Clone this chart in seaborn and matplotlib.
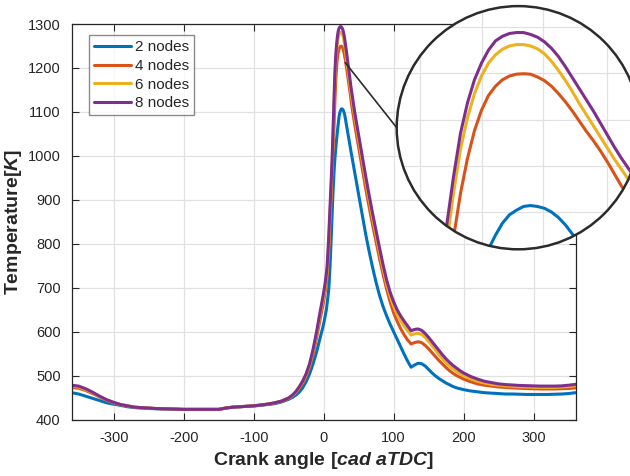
import numpy as np
import pandas as pd
import matplotlib
matplotlib.use("Agg")
import matplotlib.pyplot as plt
import seaborn as sns
from matplotlib.patches import Circle, ConnectionPatch

# ---------------- data ----------------
crank_angle = ([-360, -350, -340, -330, -320, -310, -300, -290, -280, -270, -260, -250,
                -240, -230, -220, -210, -200, -190, -180, -170, -160, -150, -140, -130,
                -120, -110, -100, -90, -80, -70, -60, -50]
               + [-45, -40, -35, -30, -25, -20, -15, -10, -5]
               + [0, 2, 4]
               + list(range(5, 46))
               + [48, 52, 56, 60]
               + list(range(65, 201, 5))
               + list(range(210, 361, 10)))

T_2nodes = ([461, 458, 453, 448, 443, 438, 435, 432, 429, 427, 426, 425, 424.5, 424, 424, 423.5,
             423, 423, 423, 423, 423, 423, 426, 428, 429, 430, 431, 432, 434, 436, 440, 446]
            + [450, 455, 462, 472, 486, 504, 527, 554, 585]
            + [617, 633, 650]
            + [663, 675, 690, 712, 742, 778, 818, 860, 900, 935, 965, 990, 1010, 1028, 1045, 1060,
               1075, 1088, 1097, 1102, 1106, 1107, 1106, 1104, 1100, 1094, 1086, 1076, 1067, 1058,
               1048, 1039, 1030, 1020, 1011, 1002, 993, 984, 975, 966, 957]
            + [930, 893, 857, 823]
            + [783, 746, 712, 682, 657, 636, 617, 600, 583, 566, 549, 533, 519, 524, 528, 527, 522,
               514, 506, 499, 493, 488, 483, 479, 475, 472, 470, 468]
            + [465, 463, 461, 460, 459, 458, 458, 457.5, 457, 457, 457, 457, 457.5, 458, 459, 461])

T_4nodes = ([473, 471, 466, 459, 451, 444, 438, 433.5, 430.5, 428, 427, 426, 425, 424.5, 424, 423.5,
             423, 423, 423, 423, 423, 423, 426, 428, 429, 430, 431, 433, 435, 437.5, 441.5, 448]
            + [453, 460, 470, 482, 498, 519, 549, 586, 628]
            + [668, 688, 711]
            + [722, 745, 770, 800, 838, 878, 918, 953, 990, 1030, 1072, 1120, 1158, 1188, 1210, 1226,
               1236, 1243, 1247, 1249, 1249.5, 1249, 1246, 1242, 1236, 1228, 1219, 1209, 1198, 1187,
               1177, 1166, 1154, 1141, 1128, 1117, 1106, 1096, 1086, 1076, 1066]
            + [1038, 1000, 963, 927]
            + [884, 843, 804, 766, 730, 697, 668, 643, 624, 607, 593, 581, 572, 575, 577, 575, 569,
               561, 552, 543, 534, 526, 518, 511, 505, 500, 496, 492]
            + [486, 481, 478, 476, 474, 473, 472, 471, 470.5, 470, 469.5, 469.5, 469.5, 470, 470.5, 472])

T_6nodes = ([476, 474, 468, 461, 452, 444.5, 438.5, 434, 431, 428, 427, 426, 425, 424.5, 424, 423.5,
             423, 423, 423, 423, 423, 423, 426, 428, 429, 430, 431, 433, 435, 438, 442, 449]
            + [454, 462, 473, 485, 502, 524, 556, 595, 639]
            + [680, 700, 724]
            + [738, 765, 792, 826, 860, 895, 935, 975, 1015, 1065, 1120, 1168, 1202, 1228, 1247, 1261,
               1270, 1276, 1279.5, 1281, 1281, 1279.5, 1276.5, 1271, 1263, 1253, 1242, 1230, 1217, 1205,
               1193, 1181, 1169, 1157, 1146, 1135, 1124, 1114, 1104, 1094, 1084]
            + [1056, 1018, 981, 945]
            + [901, 859, 819, 780, 743, 709, 681, 658, 639, 625, 613, 602, 592, 595, 596, 594, 587,
               578, 568, 558, 547, 538, 529, 521, 515, 509, 504, 500]
            + [493, 487, 483, 480, 478, 476.5, 475.5, 474.5, 474, 473.5, 473, 473, 473, 474, 475, 477])

T_8nodes = ([478, 476, 470, 462, 453, 445, 439, 434, 431, 428, 427, 426, 425, 424.5, 424, 423.5,
             423, 423, 423, 423, 423, 423, 426, 428, 429, 430, 431, 433, 435, 438, 442, 449]
            + [455, 463, 474, 487, 504, 527, 560, 600, 645]
            + [688, 708, 733]
            + [748, 775, 805, 840, 872, 905, 942, 985, 1035, 1084, 1138, 1185, 1218, 1243, 1261, 1275,
               1285, 1290, 1293, 1294, 1294, 1292, 1289, 1284, 1277, 1268, 1257, 1245, 1233, 1221,
               1209, 1196, 1183, 1170, 1158, 1147, 1136, 1125, 1114, 1104, 1094]
            + [1066, 1028, 991, 955]
            + [911, 869, 829, 790, 752, 718, 690, 668, 650, 636, 624, 613, 602, 605, 606, 603, 596,
               587, 577, 567, 557, 547, 538, 530, 523, 517, 511, 506]
            + [498, 492, 487, 484, 481, 479.5, 478.5, 477.5, 477, 476.5, 476, 476, 476, 476.5, 478, 480])

series_names = ["2 nodes", "4 nodes", "6 nodes", "8 nodes"]
series_values = [T_2nodes, T_4nodes, T_6nodes, T_8nodes]
x_ticks = [-300, -200, -100, 0, 100, 200, 300]
y_ticks = [400, 500, 600, 700, 800, 900, 1000, 1100, 1200, 1300]

# ---------------- style ----------------
colors = {"2 nodes": "#0072BD", "4 nodes": "#D95319", "6 nodes": "#EDB120", "8 nodes": "#7E2F8E"}
sns.set_style("ticks")
plt.rcParams["font.family"] = ["Liberation Sans", "DejaVu Sans"]
plt.rcParams["mathtext.fontset"] = "custom"
plt.rcParams["mathtext.it"] = "Liberation Sans:italic:bold"
plt.rcParams["mathtext.rm"] = "Liberation Sans:bold"
plt.rcParams["axes.unicode_minus"] = False
dark = "#262626"

df = pd.concat([pd.DataFrame({"angle": crank_angle, "T": v, "series": n})
                for n, v in zip(series_names, series_values)], ignore_index=True)

fig = plt.figure(figsize=(6.3, 4.76), dpi=100)
ax = fig.add_axes([71.7 / 630, (476 - 419.5) / 476, 503.8 / 630, 395.5 / 476])

for n in series_names:
    sns.lineplot(data=df[df["series"] == n], x="angle", y="T", color=colors[n],
                 linewidth=2.2, label=n, ax=ax, estimator=None, sort=False)

ax.set_xlim(-360, 360)
ax.set_ylim(400, 1300)
ax.set_xticks(x_ticks)
ax.set_yticks(y_ticks)
ax.grid(True, color="#e1e1e1", linewidth=0.9)
ax.set_axisbelow(True)
ax.tick_params(direction="in", top=True, right=True, length=5, width=0.8,
               colors=dark, labelsize=10.5)
ax.tick_params(axis="x", pad=8)
ax.tick_params(axis="y", pad=8)
for sp in ax.spines.values():
    sp.set_color(dark)
    sp.set_linewidth(0.9)
ax.set_xlabel(r"Crank angle [$\mathit{cad\ aTDC}$]", fontsize=14, fontweight="bold",
              color=dark, labelpad=4)
ax.set_ylabel(r"Temperature[$\mathit{K}$]", fontsize=14, fontweight="bold",
              color=dark, labelpad=3)

leg = ax.legend(loc="upper left", bbox_to_anchor=((89 - 71.7) / 503.8, 1 - (35 - 24) / 395.5),
                borderaxespad=0, fontsize=11, frameon=True, fancybox=False,
                handlelength=2.4, handletextpad=0.25, labelspacing=0.3, borderpad=0.35)
leg.get_frame().set_edgecolor("#6e6e6e")
leg.get_frame().set_linewidth(1.0)
for t in leg.get_texts():
    t.set_color(dark)

# ---------------- circular zoom inset ----------------
cx, cy, r = 518.3, 127.7, 121.6
ax2 = fig.add_axes([(cx - r) / 630, (476 - cy - r) / 476, 2 * r / 630, 2 * r / 476])
ax2.patch.set_visible(False)
for sp in ax2.spines.values():
    sp.set_visible(False)
ax2.set_xticks([])
ax2.set_yticks([])

bg = Circle((0.5, 0.5), 0.5, transform=ax2.transAxes, facecolor="white", edgecolor="none", zorder=0)
ax2.add_patch(bg)
clip = Circle((0.5, 0.5), 0.5, transform=ax2.transAxes, facecolor="none", edgecolor="none")
ax2.add_patch(clip)

for gx in [10.2, 19.1, 27.8, 36.9]:
    gl = ax2.axvline(gx, color="#e1e1e1", linewidth=0.9, zorder=1)
    gl.set_clip_path(clip)
for gy in [1100, 1150, 1200, 1250, 1300]:
    gl = ax2.axhline(gy, color="#e1e1e1", linewidth=0.9, zorder=1)
    gl.set_clip_path(clip)

for n in series_names:
    sns.lineplot(data=df[df["series"] == n], x="angle", y="T", color=colors[n],
                 linewidth=2.2, ax=ax2, estimator=None, sort=False, legend=False)
for ln in ax2.lines:
    ln.set_clip_path(clip)
ax2.set_xlabel("")
ax2.set_ylabel("")
ax2.set_xlim(6.89, 41.63)
ax2.set_ylim(1059.7, 1322.6)

rim = Circle((0.5, 0.5), 0.5, transform=ax2.transAxes, facecolor="none",
             edgecolor="#2b2b2b", linewidth=1.8, zorder=5, clip_on=False)
ax2.add_patch(rim)

con = ConnectionPatch(xyA=(31, 1212), coordsA=ax.transData, xyB=(0.0, 0.5),
                      coordsB=ax2.transAxes, color="#2b2b2b", linewidth=1.2, zorder=6)
fig.add_artist(con)

fig.savefig("out.png", dpi=100)
